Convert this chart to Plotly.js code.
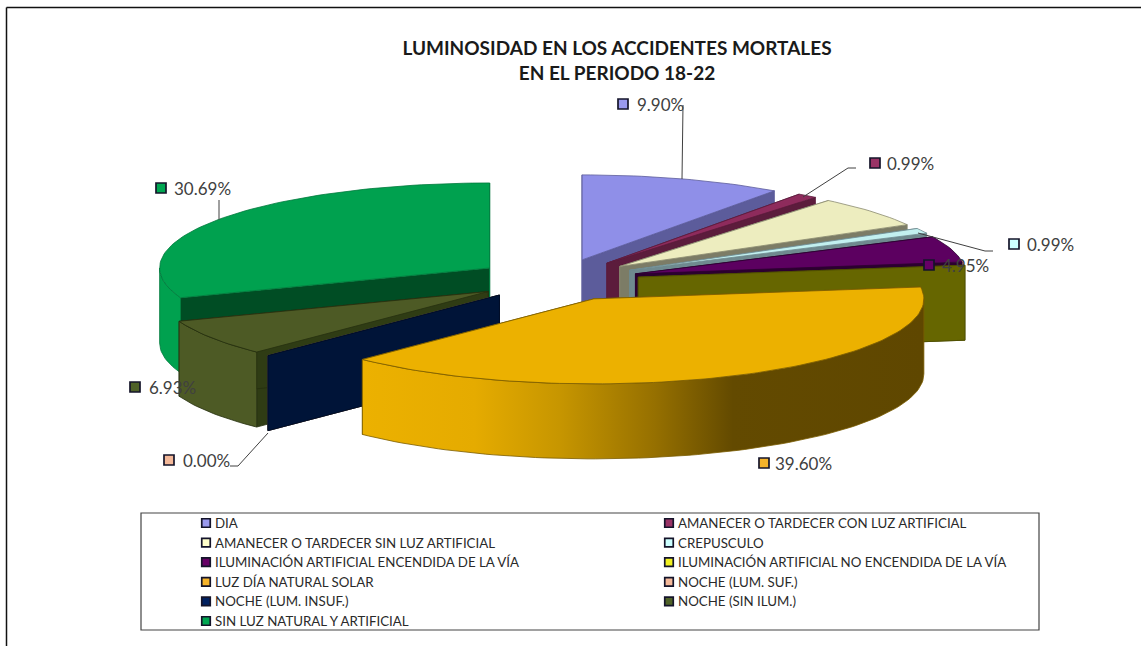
<!DOCTYPE html>
<html><head><meta charset="utf-8">
<script src="https://cdn.plot.ly/plotly-3.0.1.min.js"></script>
<style>html,body{margin:0;padding:0;background:#fff}#c{width:1141px;height:646px}</style>
</head><body><div id="c"></div>
<script>
// ---- data ----
const categories = ["DIA","AMANECER O TARDECER CON LUZ ARTIFICIAL","AMANECER O TARDECER SIN LUZ ARTIFICIAL","CREPUSCULO","ILUMINACIÓN ARTIFICIAL ENCENDIDA DE LA VÍA","ILUMINACIÓN ARTIFICIAL NO ENCENDIDA DE LA VÍA","LUZ DÍA NATURAL SOLAR","NOCHE (LUM. SUF.)","NOCHE (LUM. INSUF.)","NOCHE (SIN ILUM.)","SIN LUZ NATURAL Y ARTIFICIAL"];
const values = [9.90,0.99,5.94,0.99,4.95,0.00,39.60,0.00,0.00,6.93,30.69];
// ---- styling (per category) ----
const legendColors = ["#9999ee","#993366","#ffffcc","#ccffff","#660066","#f0f020","#f5b32a","#f4b99a","#002060","#4f6228","#00a651"];
const topColors  = ["#8f8fe8","#8e2b5c","#ededbf","#c2f0f0","#5c0060","#666600","#ecb100","#f4b99a","#001438","#4d5a25","#00a14f"];
const cutColors  = ["#5c5c9b","#5c1c3c","#7c7c66","#6f8a8f","#2c0030","#666600","#5f4700","#8a6a55","#001438","#2f3c14","#004d24"];
const wallColors = ["#5c5c9b","#5c1c3c","#9a9a78","#7fa0a0","#2c0030","#666600","#ecb100","#8a6a55","#001438","#4d5a25","#00a14f"];
const lineColors = ["#5c5c9b","#5c1c3c","#8a8a70","#6f8a8f","#2c0030","#4c4c00","#7a5c00","#8a6a55","#000c24","#26300f","#007a3c"];
const drawOrder = [0,1,2,3,4,5,10,9,7,8,6];
// data-label placement: [marker x, marker y, text x]; null = not labelled
const labelSpots = [[623,104,637],[875,163,887],null,[1014,244,1027],[929,265,942],null,[764,463,775],[169,460,183],null,[135,387,149],[161,188,174]];
const leaders = [
  [[683,105],[682,179]],
  [[856,168],[848,168],[803,197]],
  [[993,251],[985,251],[918,233]],
  [[230,466],[238,466],[268,433]],
  [[219,200],[219,220]]
];
// legend grid
const legendCols = [206,669], legendTextGap = 8.5, legendTop = 523, legendRow = 19.6;
// pie projection
const cx=557, cy=280, rx=330, ry=85, explode=82, depth=75, k=ry/rx;
const total = values.reduce((a,b)=>a+b,0);
const rad = d=>d*Math.PI/180;

const traces=[];
function poly(pts,fill,line,extra){
  traces.push(Object.assign({type:"scatter",mode:"lines",x:pts.map(p=>p[0]),y:pts.map(p=>p[1]),fill:"toself",fillcolor:fill,
    line:{color:line,width:0.8},hoverinfo:"skip",showlegend:false},extra||{}));
}
let acc=0;
const spans=values.map(v=>{const s=[acc,acc+v/total*360];acc=s[1];return s;});
drawOrder.forEach(i=>{
  const [a0,a1]=spans[i], mid=rad((a0+a1)/2);
  const ax=cx+explode*Math.sin(mid), ay=cy-explode*Math.cos(mid)*k;
  const P=a=>[ax+rx*Math.sin(rad(a)),ay-ry*Math.cos(rad(a))];
  const D=p=>[p[0],p[1]+depth];
  const arc=(s,e)=>{const n=Math.max(2,Math.ceil((e-s)/1.5)+1),o=[];for(let j=0;j<n;j++)o.push(P(s+(e-s)*j/(n-1)));return o;};
  // cut faces
  [a0,a1].forEach(a=>{
    const p=P(a), A=[ax,ay];
    poly([A,p,D(p),D(A),A],cutColors[i],lineColors[i]);
  });
  // outer wall (front half only)
  const s=Math.max(a0,90), e=Math.min(a1,270);
  if(e>s){
    const top=arc(s,e), bot=top.map(D).reverse();
    const extra = i===6 ? {fillgradient:{type:"horizontal",colorscale:[[0,"#ecb100"],[0.2,"#e5ab00"],[0.35,"#c79600"],[0.52,"#967000"],[0.66,"#634a00"],[1,"#5f4700"]]}} : {};
    poly(top.concat(bot,[top[0]]),wallColors[i],lineColors[i],extra);
  }
  // top face
  if(a1>a0){
    const A=[ax,ay];
    poly([A].concat(arc(a0,a1),[A]),topColors[i],lineColors[i]);
  }
});
leaders.forEach(l=>traces.push({type:"scatter",mode:"lines",x:l.map(p=>p[0]),y:l.map(p=>p[1]),line:{color:"#404040",width:1},hoverinfo:"skip",showlegend:false}));
const annotations=[];
// one marker trace per category: legend swatch + data-label swatch
categories.forEach((c,i)=>{
  const s=labelSpots[i];
  const lx=legendCols[i%2], ly=legendTop+legendRow*Math.floor(i/2);
  const xs=[lx], ys=[ly], sizes=[8.5];
  if(s){xs.push(s[0]);ys.push(s[1]);sizes.push(10);}
  traces.push({type:"scatter",mode:"markers",name:c,x:xs,y:ys,hoverinfo:"skip",showlegend:false,
    marker:{symbol:"square",size:sizes,opacity:1,color:legendColors[i],line:{color:"#14142a",width:1.7}}});
  annotations.push({x:lx+legendTextGap,y:ly,xref:"x",yref:"y",xanchor:"left",yanchor:"middle",showarrow:false,align:"left",
    text:c,font:{family:"Lato, sans-serif",size:13.3,color:"#2a2a2a"},xshift:-2});
  if(s) annotations.push({x:s[2],y:s[1]+0.5,xref:"x",yref:"y",xanchor:"left",yanchor:"middle",showarrow:false,align:"left",
    text:values[i].toFixed(2)+"%",font:{family:"Lato, sans-serif",size:17,color:"#404040"},xshift:-2});
});
const layout={
  width:1141,height:646,margin:{l:0,r:0,t:0,b:0},paper_bgcolor:"#fff",plot_bgcolor:"#fff",
  title:{text:"LUMINOSIDAD EN LOS ACCIDENTES MORTALES<br>EN EL PERIODO 18-22",x:617/1141,xanchor:"center",y:1-55/646,yanchor:"middle",
    font:{family:"Lato, sans-serif",size:19,color:"#1a1a1a",weight:700}},
  xaxis:{range:[0,1141],visible:false,fixedrange:true},
  yaxis:{range:[646,0],visible:false,fixedrange:true},
  showlegend:false,
  annotations,
  shapes:[
    {type:"rect",xref:"x",yref:"y",x0:141,x1:1039,y0:513,y1:630,line:{color:"#444",width:1.2},fillcolor:"rgba(0,0,0,0)"},
    {type:"line",xref:"x",yref:"y",x0:6.5,x1:6.5,y0:7.5,y1:646,line:{color:"#111",width:1.5}},
    {type:"line",xref:"x",yref:"y",x0:6.5,x1:1141,y0:7.5,y1:7.5,line:{color:"#111",width:1.5}}
  ]
};
Plotly.newPlot("c",traces,layout,{displayModeBar:false,staticPlot:true});
</script></body></html>
